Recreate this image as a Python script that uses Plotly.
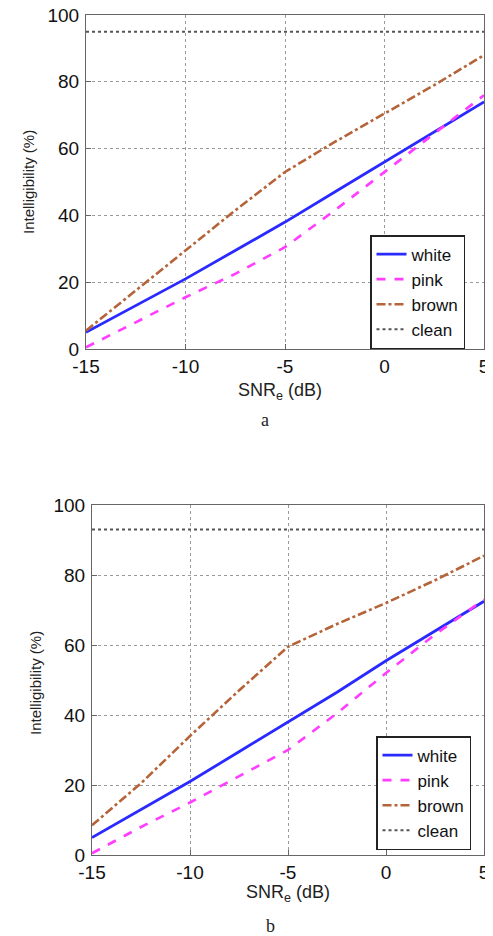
import plotly.graph_objects as go

snr = [-15, -12.5, -10, -7.5, -5, -2.5, 0, 2.5, 5]

a_white = [5, 13, 21, 29.5, 38, 47, 56, 65, 74]
a_pink = [0.5, 8, 15.5, 22.5, 30.5, 41.5, 53, 64.5, 76]
a_brown = [5.5, 17.5, 29.5, 41.5, 53, 62, 70.5, 79, 88]
a_clean = [95, 95, 95, 95, 95, 95, 95, 95, 95]

b_white = [5, 13, 21, 29.5, 38, 46.5, 55.5, 64, 72.5]
b_pink = [0.5, 8, 15, 22.5, 30, 40.5, 52, 63, 73]
b_brown = [8.5, 20.5, 34, 47, 59.5, 66, 72, 78.5, 85.5]
b_clean = [93, 93, 93, 93, 93, 93, 93, 93, 93]

names = ["white", "pink", "brown", "clean"]
x_ticks = [-15, -10, -5, 0, 5]
x_tick_labels = ["-15", "-10", "-5", "0", "5"]
y_ticks = [0, 20, 40, 60, 80, 100]
y_tick_labels = ["0", "20", "40", "60", "80", "100"]

# page body has an 8px margin; figure sized to fit the remaining window
OFF = 8
W, H = 493 - OFF, 936 - OFF


def px(x):
    return (x - OFF) / W


def py(y):
    return 1 - (y - OFF) / H


styles = [
    dict(color="#2a2aff", width=2.8, dash="solid"),
    dict(color="#ff3cff", width=2.6, dash="dash"),
    dict(color="#b5643a", width=2.6, dash="dashdot"),
    dict(color="#555555", width=2, dash="dot"),
]

fig = go.Figure()
panels = [
    (dict(x=(86, 484), y=(15, 349)), [a_white, a_pink, a_brown, a_clean], "", "legend", (370, 349)),
    (dict(x=(92, 484), y=(505, 855)), [b_white, b_pink, b_brown, b_clean], "2", "legend2", (376, 850)),
]

font = "Liberation Sans, Arial, sans-serif"
for box, series, suf, leg, lpos in panels:
    for name, vals, st in zip(names, series, styles):
        fig.add_trace(go.Scatter(x=snr, y=vals, mode="lines", name=name, line=st,
                                 xaxis="x" + suf, yaxis="y" + suf, legend=leg))
    xd = [px(box["x"][0]), px(box["x"][1])]
    yd = [py(box["y"][1]), py(box["y"][0])]
    common = dict(showline=True, mirror=True, linecolor="#666666", linewidth=1.2,
                  ticks="inside", ticklen=5, tickcolor="#666666", automargin=False,
                  showgrid=True, gridcolor="#9a9a9a", griddash="dot", gridwidth=1,
                  zeroline=False, ticklabeloverflow="allow",
                  tickfont=dict(family=font, size=19, color="#111"))
    fig.update_layout(**{
        "xaxis" + suf: dict(domain=xd, range=[-15, 5], tickvals=x_ticks, ticktext=x_tick_labels,
                            anchor="y" + suf, ticklabelstandoff=0, **common),
        "yaxis" + suf: dict(domain=yd, range=[0, 100], tickvals=y_ticks, ticktext=y_tick_labels,
                            anchor="x" + suf, ticklabelstandoff=2, **common),
        leg: dict(x=px(lpos[0]), y=py(lpos[1]), xanchor="left", yanchor="bottom",
                  bgcolor="white", bordercolor="#222", borderwidth=1.5,
                  font=dict(family=font, size=17, color="#111"),
                  tracegroupgap=0),
    })

annos = [
    dict(x=28, y=182, text="Intelligibility (%)", textangle=-90, size=15),
    dict(x=280, y=391, text="SNR<sub>e</sub> (dB)", textangle=0, size=18),
    dict(x=35, y=683, text="Intelligibility (%)", textangle=-90, size=15),
    dict(x=288, y=893, text="SNR<sub>e</sub> (dB)", textangle=0, size=18),
]
for a in annos:
    fig.add_annotation(x=px(a["x"]), y=py(a["y"]), xref="paper", yref="paper", text=a["text"],
                       textangle=a["textangle"], showarrow=False,
                       xanchor="center", yanchor="middle",
                       font=dict(family=font, size=a["size"], color="#222"))
for txt, xx, yy in [("a", 265, 420), ("b", 270, 926)]:
    fig.add_annotation(x=px(xx), y=py(yy), xref="paper", yref="paper", text=txt,
                       showarrow=False, xanchor="center", yanchor="middle",
                       font=dict(family="Liberation Serif, Times New Roman, serif", size=18, color="#222"))

fig.update_layout(width=W, height=H, margin=dict(l=0, r=0, t=0, b=0, autoexpand=False),
                  paper_bgcolor="white", plot_bgcolor="white", showlegend=True)
fig.write_html("out.html")
